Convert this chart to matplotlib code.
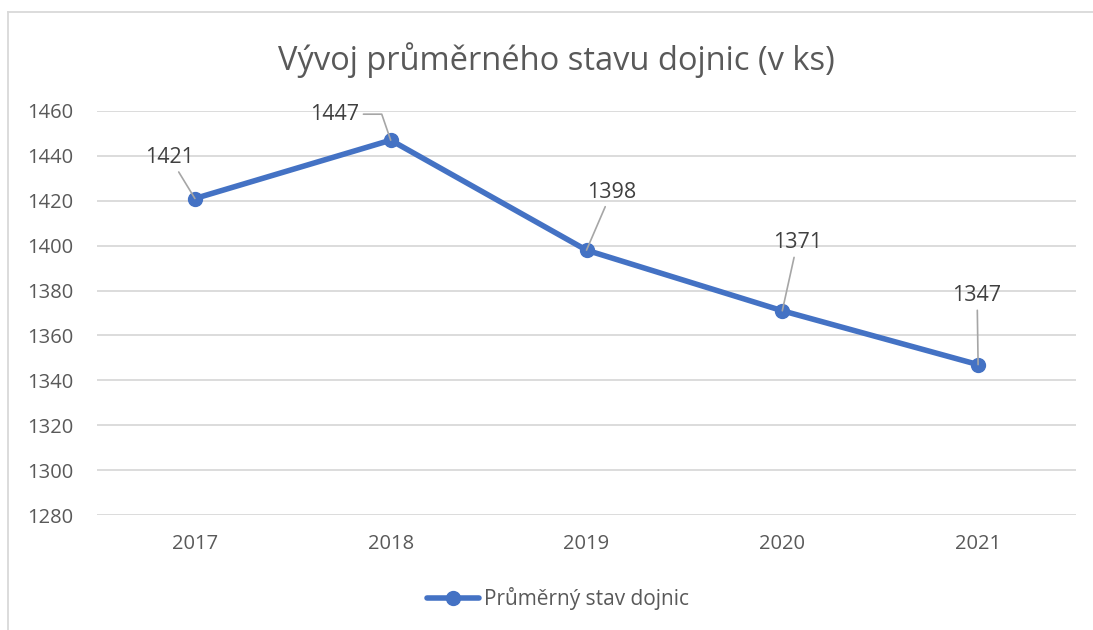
import matplotlib.pyplot as plt
from matplotlib.lines import Line2D

# Daten
roky = ['2017', '2018', '2019', '2020', '2021']
stav = [1421, 1447, 1398, 1371, 1347]
yticks = list(range(1280, 1461, 20))

# Offsety popisků (px) – pozice textu vůči bodu
label_off = [(-25, 41), (-56, 26), (25, 58), (15, 68), (-1, 69)]

plt.rcParams['font.family'] = ['Open Sans', 'DejaVu Sans']
modra = '#4472C4'
seda = '#595959'

fig = plt.figure(figsize=(10.93, 6.3), dpi=100)
ax = fig.add_axes([97/1093, 1 - 515/630, (1076 - 97)/1093, (515 - 111)/630])

x = range(len(roky))
ax.plot(x, stav, '-o', color=modra, linewidth=4, markersize=10,
        label='Průměrný stav dojnic', solid_capstyle='round', zorder=3)

for i, (v, off) in enumerate(zip(stav, label_off)):
    cs = 'angle,angleA=0,angleB=109,rad=0' if i == 1 else 'arc3'
    ax.annotate(str(v), xy=(i, v), xytext=off, textcoords='offset pixels',
                ha='center', va='center', fontsize=15.5, color='#404040',
                arrowprops=dict(arrowstyle='-', color='#A6A6A6', lw=1.2,
                                shrinkA=1, shrinkB=0, connectionstyle=cs),
                zorder=4)

ax.set_xlim(-0.5, len(roky) - 0.5)
ax.set_ylim(1280, 1460)
ax.set_xticks(list(x))
ax.set_xticklabels(roky)
ax.set_yticks(yticks)
ax.tick_params(length=0, labelsize=14.5, colors=seda)
ax.tick_params(axis='x', pad=14)
ax.tick_params(axis='y', pad=50)
for lab in ax.get_yticklabels():
    lab.set_horizontalalignment('left')
ax.grid(axis='y', color='#D9D9D9', linewidth=1.3)
ax.set_axisbelow(True)
for s in ax.spines.values():
    s.set_visible(False)

fig.text(556/1093, 1 - 60/630, 'Vývoj průměrného stavu dojnic (v ks)',
         ha='center', va='center', fontsize=23.5, color=seda)

leg = ax.legend(loc='center', bbox_to_anchor=(558/1093, 1 - 599/630),
                bbox_transform=fig.transFigure, frameon=False, fontsize=15,
                handlelength=2.5, handletextpad=0.25)
for t in leg.get_texts():
    t.set_color(seda)

# rámeček grafu
fig.add_artist(Line2D([8/1093, 1], [1 - 12/630] * 2, color='#D9D9D9', lw=1.3,
                      transform=fig.transFigure))
fig.add_artist(Line2D([8/1093] * 2, [0, 1 - 12/630], color='#D9D9D9', lw=1.3,
                      transform=fig.transFigure))

fig.savefig('out.png', dpi=100)
